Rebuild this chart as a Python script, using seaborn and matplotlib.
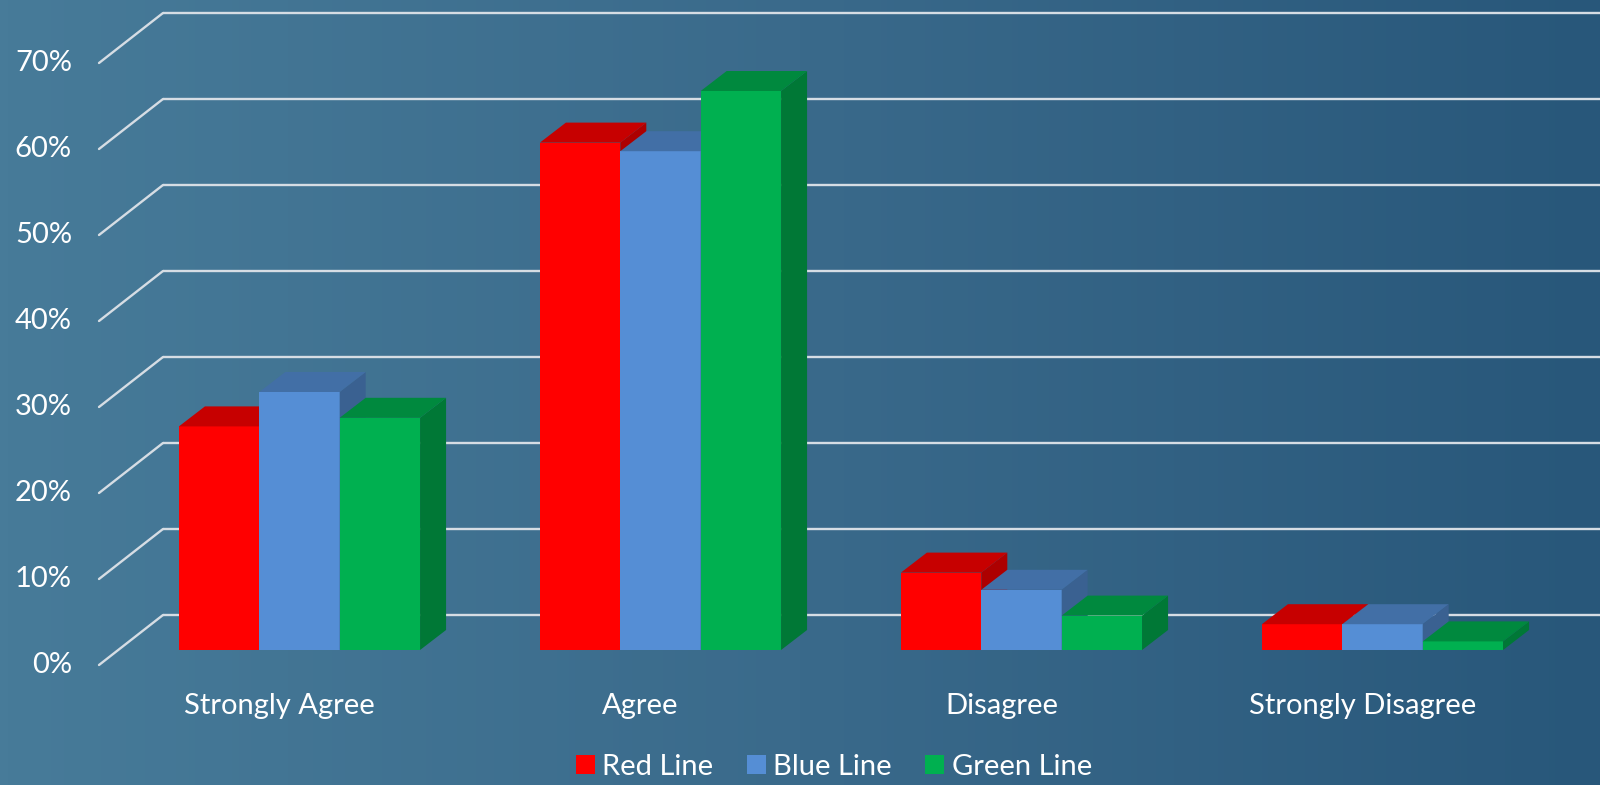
import numpy as np
import pandas as pd
import matplotlib
matplotlib.use("Agg")
import matplotlib.pyplot as plt
import matplotlib.transforms as mtransforms
from matplotlib.patches import Polygon, Patch
from matplotlib.colors import LinearSegmentedColormap, to_rgb
import seaborn as sns

# Survey responses by line
categories = ["Strongly Agree", "Agree", "Disagree", "Strongly Disagree"]
series = ["Red Line", "Blue Line", "Green Line"]
red_line = [0.26, 0.59, 0.09, 0.03]
blue_line = [0.30, 0.58, 0.07, 0.03]
green_line = [0.27, 0.65, 0.04, 0.01]
y_ticks = [0.0, 0.1, 0.2, 0.3, 0.4, 0.5, 0.6, 0.7]
y_tick_labels = ["0%", "10%", "20%", "30%", "40%", "50%", "60%", "70%"]

front_colors = ["#ff0000", "#558ed5", "#00b050"]

df = pd.DataFrame({
    "category": categories * 3,
    "series": [s for s in series for _ in categories],
    "value": red_line + blue_line + green_line,
})

sns.set_theme(style="white")
plt.rcParams["font.family"] = ["Lato", "DejaVu Sans"]

W, H = 1600, 785
DPI = 100
FS = 21
fig = plt.figure(figsize=(W / DPI, H / DPI), dpi=DPI)

# Slide-style gradient background
bg = fig.add_axes([0, 0, 1, 1], zorder=-10)
cmap = LinearSegmentedColormap.from_list("bg", ["#477b99", "#3a6a8b", "#28577a"])
bg.imshow(np.linspace(0, 1, 512)[None, :], aspect="auto", cmap=cmap,
          extent=[0, 1, 0, 1], interpolation="bilinear")
bg.axis("off")

base_px = 135          # bar floor, pixels from the bottom of the figure
ax = fig.add_axes([0, base_px / H, 1, 602 / H])
ax.set_facecolor("none")

sns.barplot(data=df, x="category", y="value", hue="series",
            palette=front_colors, width=0.668, saturation=1,
            linewidth=0, ax=ax, legend=False)

spacing = 361.0
first_center = 299.5
ax.set_xlim(-first_center / spacing, (W - first_center) / spacing)
ax.set_ylim(0, 0.70)
ax.set_xticks([])
ax.set_yticks([])
ax.set_xlabel("")
ax.set_ylabel("")
sns.despine(ax=ax, left=True, bottom=True)
ax.grid(False)


def px_to_data(dx_px, dy_px):
    inv = ax.transData.inverted()
    o = ax.transData.transform((0, 0))
    p = inv.transform(o + np.array([dx_px, dy_px]))
    q = inv.transform(o)
    return p[0] - q[0], p[1] - q[1]


# Depth of the bar boxes
ddx, ddy = px_to_data(26, 20)

bars = sorted([p for p in ax.patches if p.get_width() > 0], key=lambda p: p.get_x())
for k, bar in enumerate(bars):
    z = 3 + 0.01 * k
    x0, w, h = bar.get_x(), bar.get_width(), bar.get_height()
    x1 = x0 + w
    rgb = np.array(to_rgb(bar.get_facecolor()))
    bar.set_zorder(z)
    side = Polygon([(x1, 0), (x1 + ddx, ddy), (x1 + ddx, h + ddy), (x1, h)],
                   closed=True, facecolor=rgb * 0.68, edgecolor="none", zorder=z + 0.001)
    top = Polygon([(x0, h), (x1, h), (x1 + ddx, h + ddy), (x0 + ddx, h + ddy)],
                  closed=True, facecolor=rgb * 0.78, edgecolor="none", zorder=z + 0.002)
    ax.add_patch(side)
    ax.add_patch(top)

# Back wall gridlines with the slanted floor/side edges
ytrans = ax.get_yaxis_transform()
back_trans = mtransforms.offset_copy(ytrans, fig=fig, x=0, y=35, units="dots")
front_trans = mtransforms.offset_copy(ytrans, fig=fig, x=0, y=-15, units="dots")
_, wall_dy = px_to_data(0, 50)
grid_color = "#d6dde4"
for v, lab in zip(y_ticks, y_tick_labels):
    ax.plot([163 / W, 1.0], [v, v], transform=back_trans, color=grid_color,
            lw=1.7, zorder=1, clip_on=False, solid_capstyle="butt")
    ax.plot([99 / W, 163 / W], [v, v + wall_dy], transform=front_trans,
            color=grid_color, lw=1.7, zorder=1, clip_on=False)
    ax.text(72 / W, v, lab, transform=front_trans, ha="right", va="center",
            color="white", fontsize=FS, clip_on=False)

# Category labels on the front floor edge
cat_trans = mtransforms.offset_copy(ax.transData, fig=fig, x=-20, y=-56, units="dots")
for i, cat in enumerate(categories):
    ax.text(i, 0, cat, transform=cat_trans, ha="center", va="center",
            color="white", fontsize=FS, clip_on=False)

handles = [Patch(facecolor=c, edgecolor="none") for c in front_colors]
fig.legend(handles, series, loc="center", bbox_to_anchor=(834 / W, 1 - 767 / H),
           ncol=3, frameon=False, fontsize=FS, labelcolor="white",
           handlelength=0.65, handleheight=0.65, handletextpad=0.25,
           columnspacing=1.15)

fig.savefig("out.png", dpi=DPI)
